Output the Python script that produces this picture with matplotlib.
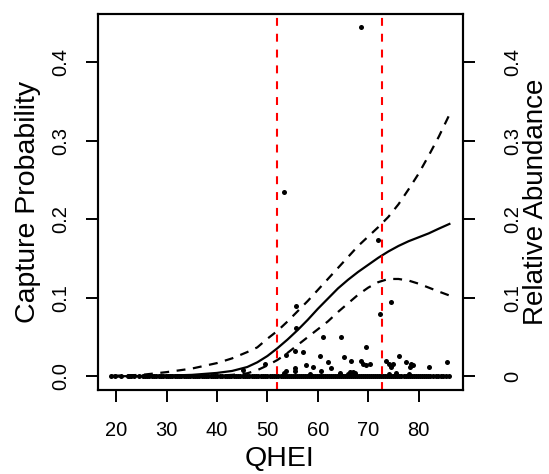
import numpy as np
import matplotlib
matplotlib.use("Agg")
import matplotlib.pyplot as plt

plt.rcParams['font.family'] = ['Liberation Sans', 'DejaVu Sans']

# fitted capture probability curve and its confidence band
curve_x = [19, 25, 30, 35, 40, 43, 46, 48, 50, 52, 54, 56, 58, 60, 62, 64,
           66, 68, 70, 72, 74, 76, 78, 80, 82, 84, 86.1]
fit = [0.0002, 0.0005, 0.001, 0.002, 0.0045, 0.007, 0.012, 0.018, 0.026,
       0.036, 0.047, 0.059, 0.072, 0.086, 0.099, 0.112, 0.123, 0.133, 0.142,
       0.151, 0.159, 0.166, 0.172, 0.177, 0.182, 0.188, 0.194]
upper = [0.0008, 0.002, 0.0055, 0.010, 0.017, 0.023, 0.031, 0.037, 0.048,
         0.058, 0.070, 0.083, 0.096, 0.110, 0.124, 0.138, 0.152, 0.166, 0.178,
         0.190, 0.203, 0.219, 0.238, 0.258, 0.281, 0.305, 0.333]
lower = [0.0, 0.0, 0.0001, 0.0003, 0.001, 0.002, 0.004, 0.008, 0.014,
         0.021, 0.030, 0.040, 0.050, 0.060, 0.070, 0.082, 0.093, 0.104, 0.113,
         0.120, 0.124, 0.124, 0.122, 0.118, 0.113, 0.108, 0.103]

# sites where the species was caught (relative abundance > 0)
pos_x = [68.6, 53.2, 72.0, 74.5, 55.6, 72.3, 55.6, 61.0, 64.6, 69.5, 55.5,
         57.1, 53.6, 60.5, 76.1, 65.1, 62.1, 49.6, 66.6, 68.6, 70.4, 69.5,
         68.9, 73.6, 74.2, 74.9, 74.6, 77.5, 78.5, 78.8, 78.3, 82.0, 85.6,
         57.6, 59.1, 60.7, 62.7, 45.1, 55.5, 55.5, 53.6, 53.2, 64.4, 66.3,
         66.9, 67.3, 66.0, 75.5, 78.0, 74.1, 58.5]
pos_y = [0.445, 0.234, 0.173, 0.095, 0.090, 0.079, 0.061, 0.050, 0.050,
         0.037, 0.033, 0.031, 0.027, 0.026, 0.026, 0.025, 0.018, 0.016, 0.020,
         0.020, 0.016, 0.014, 0.016, 0.020, 0.016, 0.016, 0.012, 0.018, 0.016,
         0.014, 0.012, 0.012, 0.018, 0.014, 0.012, 0.007, 0.011, 0.008, 0.011,
         0.007, 0.007, 0.005, 0.004, 0.006, 0.0055, 0.004, 0.003, 0.004,
         0.003, 0.003, 0.003]

# sites with zero catch
zero_x = [19.0, 19.8, 21.0, 22.3, 22.6, 23.0, 23.5, 24.6, 25.3, 25.8, 26.2,
          26.6, 27.1, 27.5, 28.0, 28.4, 28.9, 29.3, 29.8, 30.2, 30.7, 31.1,
          31.6, 32.0, 32.5, 32.9, 33.4, 33.8, 34.3, 34.7, 35.2, 35.6, 36.1,
          36.5, 37.0, 37.4, 37.9, 38.3, 38.8, 39.2, 39.7, 40.1, 40.6, 41.0,
          41.5, 41.9, 42.4, 42.8, 43.3, 43.7, 44.2, 44.6, 45.1, 45.5, 46.0,
          46.4, 46.9, 47.3, 47.8, 48.2, 48.7, 49.1, 49.6, 50.0, 50.5, 50.9,
          51.4, 51.8, 52.2, 52.6, 53.0, 53.4, 53.8, 54.2, 54.6, 55.0, 55.4,
          55.8, 56.2, 56.6, 57.0, 57.4, 57.8, 58.2, 58.6, 59.0, 59.4, 59.8,
          60.2, 60.6, 61.0, 61.4, 61.8, 62.2, 62.6, 63.0, 63.4, 63.8, 64.2,
          64.6, 65.0, 65.4, 65.8, 66.2, 66.6, 67.0, 67.4, 67.8, 68.2, 68.6,
          69.0, 69.4, 69.8, 70.2, 70.6, 71.0, 71.4, 71.8, 72.2, 72.6, 73.0,
          73.4, 73.8, 74.2, 74.6, 75.0, 75.4, 75.8, 76.2, 76.6, 77.0, 77.4,
          77.8, 78.2, 78.6, 79.0, 79.4, 79.8, 80.2, 80.6, 81.0, 81.4, 81.8,
          82.2, 82.8, 83.4, 83.9, 84.4, 84.9, 85.4, 86.1]

cutoffs = [51.9, 72.8]

fig = plt.figure(figsize=(5.49, 4.74), dpi=100)
ax = fig.add_axes([97.5/549, 84.5/474, 365/549, 376/474])

ax.scatter(zero_x, np.zeros(len(zero_x)), s=13, c='black', linewidths=0, zorder=3)
ax.scatter(pos_x, pos_y, s=13, c='black', linewidths=0, zorder=3)

ax.plot(curve_x, fit, color='black', lw=1.6)
ax.plot(curve_x, upper, color='black', lw=1.6, ls=(0, (4.0, 3.4)))
ax.plot(curve_x, lower, color='black', lw=1.6, ls=(0, (4.0, 3.4)))

for c in cutoffs:
    ax.axvline(c, color='#FF0000', lw=1.5, ls=(0, (3.8, 3.8)), zorder=4)

ax.set_xlim(16.3, 88.7)
ax.set_ylim(-0.0166, 0.4617)

ax.set_xticks([20, 30, 40, 50, 60, 70, 80])
ax.set_yticks([0, 0.1, 0.2, 0.3, 0.4])
ax.set_yticklabels(['0.0', '0.1', '0.2', '0.3', '0.4'], rotation=90, va='center')
ax.tick_params(direction='out', length=8.5, width=1.4, labelsize=14.5)
ax.tick_params(axis='x', pad=14)
ax.tick_params(axis='y', pad=11)

for sp in ax.spines.values():
    sp.set_linewidth(1.5)

ax.set_xlabel('QHEI', fontsize=20.5)
ax.set_ylabel('Capture Probability', fontsize=20.5)
ax.xaxis.set_label_coords(0.5, -0.150)
ax.yaxis.set_label_coords(-0.155, 0.5)

ax2 = ax.twinx()
ax2.set_ylim(ax.get_ylim())
ax2.set_yticks([0, 0.1, 0.2, 0.3, 0.4])
ax2.set_yticklabels(['0', '0.1', '0.2', '0.3', '0.4'], rotation=90, va='center')
ax2.tick_params(direction='out', length=8.5, width=1.4, labelsize=14.5, pad=20.5)
for sp in ax2.spines.values():
    sp.set_linewidth(1.5)
ax2.set_ylabel('Relative Abundance', fontsize=20)
ax2.yaxis.set_label_coords(1.1658, 0.5)

fig.savefig('out.png', dpi=100)
